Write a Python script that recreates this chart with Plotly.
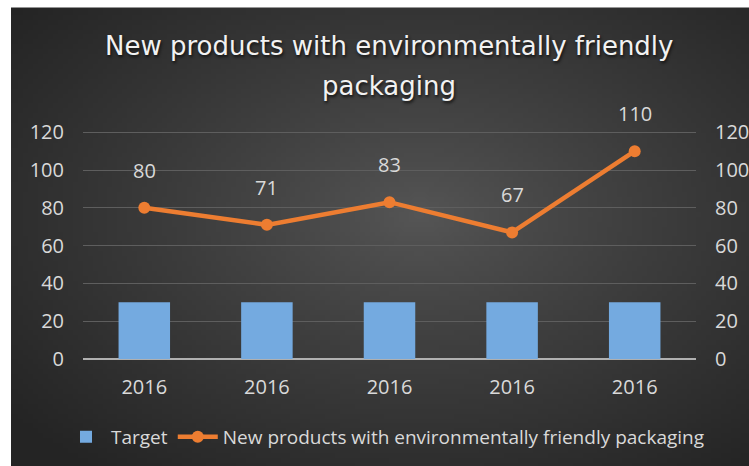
import zlib, struct, base64, math
import plotly.graph_objects as go

# ---- data ----
categories = ["2016", "2016", "2016", "2016", "2016"]
target_values = [30, 30, 30, 30, 30]
product_values = [80, 71, 83, 67, 110]
y_ticks = [0, 20, 40, 60, 80, 100, 120]
title_lines = ["New products with environmentally friendly", "packaging"]
series_names = ["Target", "New products with environmentally friendly packaging"]


def gradient_png(w, h, c_center=86, c_edge=36):
    raw = bytearray()
    for j in range(h):
        raw.append(0)
        for i in range(w):
            nx = (i + 0.5) / w * 2 - 1.1
            ny = (j + 0.5) / h * 2 - 0.9
            d = min(1.0, math.sqrt(nx * nx + ny * ny) / math.sqrt(2))
            d = d ** 0.85
            v = int(round(c_center + (c_edge - c_center) * d))
            raw += bytes((v, v, v))

    def chunk(t, d):
        c = struct.pack('>I', len(d)) + t + d
        return c + struct.pack('>I', zlib.crc32(t + d) & 0xffffffff)

    png = (b'\x89PNG\r\n\x1a\n'
           + chunk(b'IHDR', struct.pack('>IIBBBBB', w, h, 8, 2, 0, 0, 0))
           + chunk(b'IDAT', zlib.compress(bytes(raw), 9))
           + chunk(b'IEND', b''))
    return 'data:image/png;base64,' + base64.b64encode(png).decode()


xpos = list(range(len(categories)))
FONT = "Open Sans"
TXT = "#d9d9d9"

W, H = 749, 466
L, R, B = 83, 696, 359
YMAX = 121.2
PX_PER_UNIT = 227 / 120
T = B - PX_PER_UNIT * YMAX
PW, PH = R - L, B - T


def px_x(sx):
    return (sx - L) / PW


def px_y(sy):
    return (B - sy) / PH


fig = go.Figure()
fig.add_trace(go.Bar(
    x=xpos, y=target_values, name=series_names[0], width=0.42,
    marker=dict(color="#74aae0", line=dict(width=0)), yaxis="y",
))
fig.add_trace(go.Scatter(
    x=xpos, y=product_values, name=series_names[1], mode="lines+markers",
    line=dict(color="#ED7D31", width=4.5),
    marker=dict(color="#ED7D31", size=12), yaxis="y2",
))

annotations = []
for xv, yv in zip(xpos, product_values):
    annotations.append(dict(
        x=xv, y=yv, xref="x", yref="y2", text=str(yv), showarrow=False,
        yanchor="bottom", yshift=22, font=dict(family=FONT, size=20, color=TXT),
    ))
for line, ypix in zip(title_lines, [46, 86]):
    annotations.append(dict(
        x=px_x(389), y=px_y(ypix), xref="paper", yref="paper", text=line,
        showarrow=False, xanchor="center", yanchor="middle",
        font=dict(family="DejaVu Sans", size=26, color="#f2f2f2",
                  shadow="1px 2px 3px #111111"),
    ))

fig.update_layout(
    width=W, height=H,
    margin=dict(l=L, r=W - R, t=T, b=H - B, autoexpand=False),
    paper_bgcolor="#2a2a2a",
    plot_bgcolor="rgba(0,0,0,0)",
    showlegend=True,
    legend=dict(orientation="h", x=px_x(61), xanchor="left", y=px_y(437),
                yanchor="middle", font=dict(family=FONT, size=19, color=TXT),
                bgcolor="rgba(0,0,0,0)", itemwidth=40),
    xaxis=dict(range=[-0.5, len(categories) - 0.5], tickvals=xpos,
               ticktext=categories, showgrid=False, zeroline=False,
               showline=False, ticks="", ticklabelstandoff=14,
               tickfont=dict(family=FONT, size=20, color=TXT)),
    yaxis=dict(range=[0, YMAX], tickvals=y_ticks, showgrid=True,
               gridcolor="#5e5e5e", gridwidth=1.3, zeroline=True,
               zerolinecolor="#b0b0b0", zerolinewidth=2, showline=False,
               ticks="", ticklabelstandoff=18,
               tickfont=dict(family=FONT, size=20, color=TXT)),
    yaxis2=dict(range=[0, YMAX], tickvals=y_ticks, overlaying="y", side="right",
                showgrid=False, zeroline=False, showline=False, ticks="",
                ticklabelstandoff=18,
                tickfont=dict(family=FONT, size=20, color=TXT)),
    annotations=annotations,
    images=[dict(source=gradient_png(150, 94), xref="paper", yref="paper",
                 x=px_x(11), y=px_y(7),
                 sizex=(W + 4 - 11) / PW, sizey=(H + 4 - 7) / PH,
                 xanchor="left", yanchor="top", sizing="stretch",
                 layer="below")],
    shapes=[
        dict(type="rect", xref="paper", yref="paper", layer="below",
             x0=px_x(-2), x1=px_x(11), y0=px_y(H + 2), y1=px_y(-2),
             fillcolor="white", line=dict(width=0)),
        dict(type="rect", xref="paper", yref="paper", layer="below",
             x0=px_x(-2), x1=px_x(W + 2), y0=px_y(7), y1=px_y(-2),
             fillcolor="white", line=dict(width=0)),
    ],
)

fig.write_html("out.html", config={"displayModeBar": False},
               post_script="document.body.style.margin='0';"
                           "document.body.style.overflow='hidden';")
